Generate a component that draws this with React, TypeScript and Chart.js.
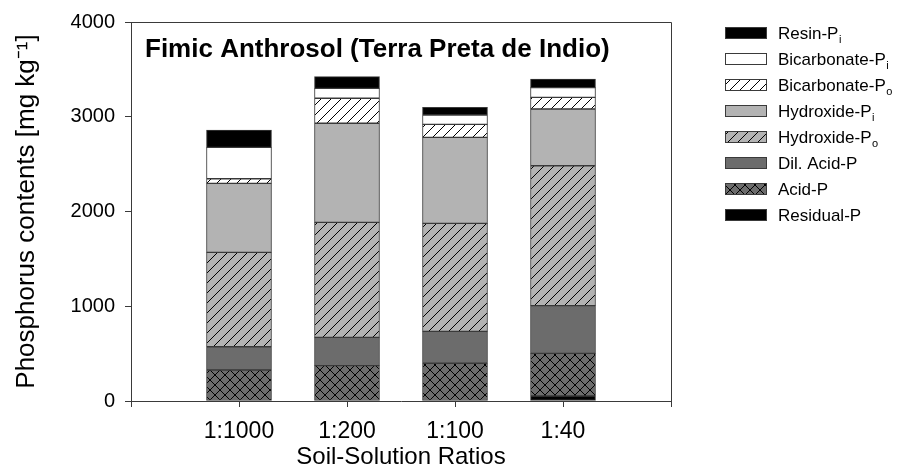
import React, { useEffect, useRef } from 'react';
import { Chart, registerables } from 'chart.js';

Chart.register(...registerables);

// ---- data ----
const categories = ['1:1000', '1:200', '1:100', '1:40'];
const residualP = [0, 0, 0, 53];
const acidP = [327, 373, 398, 450];
const dilAcidP = [246, 299, 337, 503];
const hydroxidePo = [996, 1214, 1140, 1477];
const hydroxidePi = [728, 1045, 908, 599];
const bicarbonatePo = [49, 264, 137, 123];
const bicarbonatePi = [331, 105, 98, 102];
const resinPi = [183, 123, 82, 91];
const yTicks = [0, 1000, 2000, 3000, 4000];

const FONT = '"Liberation Sans", Arial, Helvetica, sans-serif';
const EDGE = '#3a3a3a';

type Kind = 'solid' | 'diag' | 'cross';

function makeFill(bg: string, kind: Kind): string | CanvasPattern {
  if (kind === 'solid') return bg;
  const s = 10;
  const c = document.createElement('canvas');
  c.width = s;
  c.height = s;
  const g = c.getContext('2d')!;
  g.fillStyle = bg;
  g.fillRect(0, 0, s, s);
  g.strokeStyle = '#000';
  g.lineWidth = 1;
  g.beginPath();
  g.moveTo(-1, s + 1);
  g.lineTo(s + 1, -1);
  if (kind === 'cross') {
    g.moveTo(-1, -1);
    g.lineTo(s + 1, s + 1);
  }
  g.stroke();
  return g.createPattern(c, 'repeat')!;
}

export default function App() {
  const ref = useRef<HTMLCanvasElement | null>(null);

  useEffect(() => {
    document.body.style.margin = '0';
    const canvas = ref.current;
    if (!canvas) return;

    const series = [
      { name: 'Residual-P', data: residualP, bg: '#000000', kind: 'solid' as Kind },
      { name: 'Acid-P', data: acidP, bg: '#6c6c6c', kind: 'cross' as Kind },
      { name: 'Dil. Acid-P', data: dilAcidP, bg: '#6c6c6c', kind: 'solid' as Kind },
      { name: 'Hydroxide-P_o', data: hydroxidePo, bg: '#b3b3b3', kind: 'diag' as Kind },
      { name: 'Hydroxide-P_i', data: hydroxidePi, bg: '#b3b3b3', kind: 'solid' as Kind },
      { name: 'Bicarbonate-P_o', data: bicarbonatePo, bg: '#ffffff', kind: 'diag' as Kind },
      { name: 'Bicarbonate-P_i', data: bicarbonatePi, bg: '#ffffff', kind: 'solid' as Kind },
      { name: 'Resin-P_i', data: resinPi, bg: '#000000', kind: 'solid' as Kind },
    ].map((s) => ({ ...s, fill: makeFill(s.bg, s.kind) }));

    const labels = ['', ...categories, ''];

    const framePlugin = {
      id: 'frameAndExtras',
      afterDraw(chart: any) {
        const { ctx, chartArea } = chart;
        const { left, right, top, bottom } = chartArea;
        ctx.save();
        // frame top & right
        ctx.strokeStyle = EDGE;
        ctx.lineWidth = 1;
        ctx.beginPath();
        ctx.moveTo(Math.round(left) - 0.5, Math.round(top) + 0.5);
        ctx.lineTo(Math.round(right) + 0.5, Math.round(top) + 0.5);
        ctx.lineTo(Math.round(right) + 0.5, Math.round(bottom) + 6);
        ctx.stroke();
        // title inside plot
        ctx.fillStyle = '#000';
        ctx.font = `bold 26px ${FONT}`;
        ctx.textBaseline = 'alphabetic';
        ctx.textAlign = 'left';
        ctx.fillText('Fimic Anthrosol (Terra Preta de Indio)', left + 14, top + 35);
        // legend
        const items = [...series].reverse();
        const bx = 725;
        const bw = 42;
        const bh = 12;
        items.forEach((s, i) => {
          const cy = 33 + i * 26;
          const by = Math.round(cy - bh / 2);
          ctx.fillStyle = s.fill as any;
          ctx.fillRect(bx, by, bw, bh);
          ctx.strokeStyle = EDGE;
          ctx.lineWidth = 1;
          ctx.strokeRect(bx + 0.5, by + 0.5, bw - 1, bh - 1);
          const [main, sub] = s.name.split('_');
          ctx.fillStyle = '#000';
          ctx.font = `17px ${FONT}`;
          ctx.textAlign = 'left';
          ctx.textBaseline = 'alphabetic';
          const tx = 778;
          const ty = cy + 6;
          ctx.fillText(main, tx, ty);
          if (sub) {
            const w = ctx.measureText(main).width;
            ctx.font = `11px ${FONT}`;
            ctx.fillText(sub, tx + w + 0.5, ty + 4);
          }
        });
        ctx.restore();
      },
    };

    const chart = new Chart(canvas, {
      type: 'bar',
      data: {
        labels,
        datasets: series.map((s) => ({
          label: s.name.replace('_', ''),
          data: [null, ...s.data.map((v) => (v === 0 ? null : v)), null],
          backgroundColor: s.fill as any,
          borderColor: EDGE,
          borderWidth: 1,
          borderSkipped: false,
          barThickness: 65,
        })),
      },
      options: {
        animation: false,
        responsive: true,
        maintainAspectRatio: false,
        layout: { padding: { top: 22, right: 228, left: 0, bottom: 0 } },
        plugins: { legend: { display: false }, tooltip: { enabled: false } },
        scales: {
          x: {
            type: 'category',
            stacked: true,
            offset: false,
            grid: { offset: false, drawOnChartArea: false, drawTicks: true, tickLength: 6, color: EDGE },
            border: { color: EDGE, width: 1 },
            ticks: {
              color: '#000',
              font: { family: FONT, size: 23 },
              padding: 11,
              maxRotation: 0,
              autoSkip: false,
            },
            title: {
              display: true,
              text: 'Soil-Solution Ratios',
              color: '#000',
              font: { family: FONT, size: 24 },
              padding: { top: 0, bottom: 0 },
            },
            afterFit: (s: any) => {
              s.height = 71;
            },
          },
          y: {
            stacked: true,
            min: 0,
            max: 4000,
            afterBuildTicks: (s: any) => {
              s.ticks = yTicks.map((v) => ({ value: v }));
            },
            grid: { drawOnChartArea: false, drawTicks: true, tickLength: 6, color: EDGE },
            border: { color: EDGE, width: 1 },
            ticks: {
              color: '#000',
              font: { family: FONT, size: 20 },
              padding: 10,
              callback: (v: any) => String(v),
            },
            title: {
              display: true,
              text: 'Phosphorus contents [mg kg\u207B\u00B9]',
              color: '#000',
              font: { family: FONT, size: 26 },
              padding: { top: 11, bottom: 0 },
            },
            afterFit: (s: any) => {
              s.width = 131;
            },
          },
        },
      },
      plugins: [framePlugin],
    });

    return () => chart.destroy();
  }, []);

  return (
    <div style={{ position: 'relative', width: 899, height: 472 }}>
      <canvas ref={ref} />
    </div>
  );
}
